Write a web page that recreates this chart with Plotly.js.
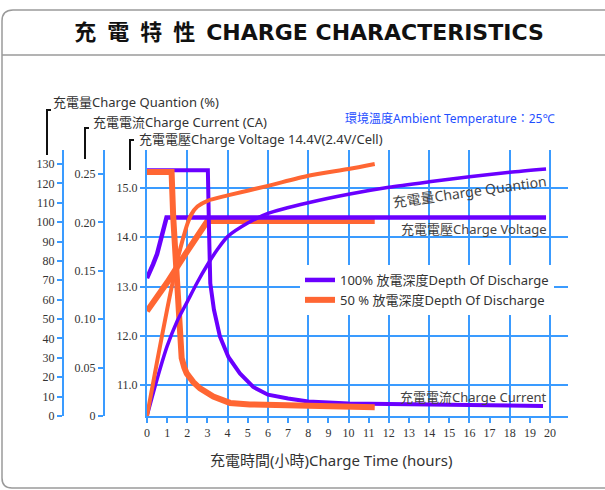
<!DOCTYPE html>
<html>
<head>
<meta charset="utf-8">
<script src="https://cdn.plot.ly/plotly-3.0.1.min.js"></script>
<style>
  html, body { margin: 0; padding: 0; background: #ffffff; }
  #chart { width: 605px; height: 490px; }
</style>
</head>
<body>
<div id="chart"></div>
<script>
// ---------- data ----------
// 100% depth of discharge
const purpleQtyHours = [0, 0.5, 1, 1.5, 2, 2.5, 3, 3.5, 4, 5, 6, 8, 10, 12, 14, 16, 18, 19.8];
const purpleQty      = [0, 19, 36, 49, 59, 69, 78, 86, 92.5, 99.5, 104.5, 110, 114.4, 118, 120.8, 123.4, 125.7, 127.4];
const purpleVoltHours = [0, 0.15, 0.3, 0.5, 0.65, 0.8, 0.9, 0.97, 19.8];
const purpleVolt      = [13.17, 13.3, 13.45, 13.66, 13.88, 14.1, 14.29, 14.4, 14.4];
const purpleCurHours = [0, 3.02, 3.08, 3.14, 3.32, 3.62, 4.04, 4.61, 5.27, 6, 7, 8, 10, 12, 16, 19.65];
const purpleCur      = [0.254, 0.254, 0.19, 0.137, 0.11, 0.082, 0.061, 0.044, 0.030, 0.022, 0.018, 0.015, 0.013, 0.0125, 0.0115, 0.0103];

// 50% depth of discharge
const orangeQtyHours = [0, 0.5, 1, 1.5, 1.8, 2.0, 2.2, 2.5, 3, 4, 6, 8, 10, 11.3];
const orangeQty      = [0, 28, 55, 80, 92, 99, 104, 108, 111, 113.8, 118.7, 123.9, 127.4, 130];
const orangeVoltHours = [0, 1, 2, 2.5, 2.8, 3.0, 11.3];
const orangeVolt      = [12.5, 13.08, 13.72, 14.05, 14.25, 14.33, 14.33];
const orangeCurHours = [0, 1.22, 1.3, 1.47, 1.64, 1.72, 1.85, 1.97, 2.3, 2.63, 3.29, 4.12, 5.1, 7, 9.5, 11.3];
const orangeCur      = [0.252, 0.252, 0.206, 0.137, 0.082, 0.06, 0.05, 0.044, 0.035, 0.0286, 0.020, 0.0135, 0.012, 0.011, 0.0095, 0.009];

// tick labels
const currentTickVals = [0, 0.05, 0.10, 0.15, 0.20, 0.25];
const currentTickText = ['0', '0.05', '0.10', '0.15', '0.20', '0.25'];
const voltageTickVals = [11, 12, 13, 14, 15];

// names / texts
const seriesNames = ['100% 放電深度Depth Of Discharge', '50 % 放電深度Depth Of Discharge'];

// ---------- layout helpers ----------
const W = 605, H = 490, ML = 20, MR = 37, MT = 150, MB = 74;
const PW = W - ML - MR, PH = H - MT - MB;
const px = x => (x - ML) / PW;
const py = y => (H - MB - y) / PH;

const PURPLE = '#6a00ff';
const ORANGE = '#ff6633';
const BLUE = '#3a9bff';
const SANS = 'Noto Sans, Noto Sans CJK TC, sans-serif';
const SERIF = 'Liberation Serif, DejaVu Serif, serif';

const traces = [
  { x: purpleQtyHours, y: purpleQty, xaxis: 'x', yaxis: 'y3', mode: 'lines',
    line: { color: PURPLE, width: 3.5, shape: 'spline', smoothing: 0.7 }, showlegend: false, hoverinfo: 'skip' },
  { x: orangeQtyHours, y: orangeQty, xaxis: 'x', yaxis: 'y3', mode: 'lines',
    line: { color: ORANGE, width: 4, shape: 'spline', smoothing: 0.7 }, showlegend: false, hoverinfo: 'skip' },
  { x: orangeVoltHours, y: orangeVolt, xaxis: 'x', yaxis: 'y', mode: 'lines',
    line: { color: ORANGE, width: 6 }, showlegend: false, hoverinfo: 'skip' },
  { x: purpleVoltHours, y: purpleVolt, xaxis: 'x', yaxis: 'y', mode: 'lines', name: seriesNames[0],
    line: { color: PURPLE, width: 4.5 }, showlegend: true, hoverinfo: 'skip' },
  { x: purpleCurHours, y: purpleCur, xaxis: 'x', yaxis: 'y2', mode: 'lines',
    line: { color: PURPLE, width: 4 }, showlegend: false, hoverinfo: 'skip' },
  { x: orangeCurHours, y: orangeCur, xaxis: 'x', yaxis: 'y2', mode: 'lines', name: seriesNames[1],
    line: { color: ORANGE, width: 6 }, showlegend: true, hoverinfo: 'skip' },
  // carrier for the 2-hour grid axis
  { x: [0], y: [11], xaxis: 'x2', yaxis: 'y', mode: 'markers', marker: { opacity: 0 },
    showlegend: false, hoverinfo: 'skip' }
];

const framePath =
  `M ${px(610)} ${py(10)} L ${px(13)} ${py(10)} Q ${px(2)} ${py(10)} ${px(2)} ${py(21)} ` +
  `L ${px(2)} ${py(478)} Q ${px(2)} ${py(488)} ${px(12)} ${py(488)} L ${px(610)} ${py(488)}`;

function bracket(x, yTop, yBot) {
  return { type: 'path', xref: 'paper', yref: 'paper',
    path: `M ${px(x + 4)} ${py(yTop)} L ${px(x)} ${py(yTop)} L ${px(x)} ${py(yBot)}`,
    line: { color: '#111111', width: 2 } };
}

const axisCommon = {
  showline: true, linecolor: BLUE, linewidth: 2, ticks: 'outside', ticklen: 5,
  tickcolor: BLUE, tickwidth: 2, zeroline: false, fixedrange: true,
  tickfont: { family: SERIF, size: 12, color: '#333333' }
};

const layout = {
  width: W, height: H,
  margin: { l: ML, r: MR, t: MT, b: MB, pad: 0 },
  paper_bgcolor: '#ffffff', plot_bgcolor: '#ffffff',
  showlegend: true,
  title: {
    text: '<span style="font-size:22px">充\u2002電\u2002特\u2002性</span>\u2002CHARGE CHARACTERISTICS',
    font: { family: 'DejaVu Sans, Noto Sans CJK TC, sans-serif', size: 22, color: '#111111', weight: 'bold' },
    x: 309 / W, xanchor: 'center', xref: 'container',
    y: 1 - 32 / H, yanchor: 'middle', yref: 'container'
  },
  xaxis: Object.assign({}, axisCommon, {
    domain: [px(147), 1], range: [0, 20.89], tick0: 0, dtick: 1,
    showgrid: false, anchor: 'y'
  }),
  xaxis2: {
    overlaying: 'x', anchor: 'y', range: [0, 20.89], tick0: 0, dtick: 2,
    showgrid: true, gridcolor: BLUE, gridwidth: 2, showticklabels: false,
    ticks: '', showline: false, zeroline: false, fixedrange: true
  },
  yaxis: Object.assign({}, axisCommon, {
    domain: [0, 1], range: [10.3706, 15.7716], tickvals: voltageTickVals, tickformat: '.1f',
    showgrid: true, gridcolor: BLUE, gridwidth: 2, anchor: 'x', side: 'left'
  }),
  yaxis2: Object.assign({}, axisCommon, {
    overlaying: 'y', anchor: 'free', position: px(104), side: 'left',
    range: [0, 0.2748], tickvals: currentTickVals, ticktext: currentTickText, showgrid: false
  }),
  yaxis3: Object.assign({}, axisCommon, {
    overlaying: 'y', anchor: 'free', position: px(63), side: 'left',
    range: [0, 137.2], tick0: 0, dtick: 10, showgrid: false
  }),
  legend: {
    x: px(300), y: py(265), xanchor: 'left', yanchor: 'top',
    bgcolor: '#ffffff', borderwidth: 0,
    font: { family: SANS, size: 13, color: '#333333' },
    tracegroupgap: 0, itemwidth: 30
  },
  shapes: [
    { type: 'path', xref: 'paper', yref: 'paper', path: framePath,
      line: { color: '#9a9a9a', width: 1.5 } },
    { type: 'line', xref: 'paper', yref: 'paper', x0: px(2), x1: px(610), y0: py(55), y1: py(55),
      line: { color: '#9a9a9a', width: 1.5 } },
    bracket(47, 110, 155),
    bracket(85, 128, 159),
    bracket(130, 140, 170)
  ],
  annotations: [
    { text: '充電量Charge Quantion (%)', x: px(51), y: py(102), xanchor: 'left', yanchor: 'middle' },
    { text: '充電電流Charge Current (CA)', x: px(91), y: py(122), xanchor: 'left', yanchor: 'middle' },
    { text: '充電電壓Charge Voltage 14.4V(2.4V/Cell)', x: px(137), y: py(139), xanchor: 'left', yanchor: 'middle' },
    { text: '環境溫度Ambient Temperature：25℃', x: px(449), y: py(118), xanchor: 'center', yanchor: 'middle',
      font: { family: SANS, size: 12, color: '#1f4fff' } },
    { text: '充電量Charge Quantion', x: px(469), y: py(191), xanchor: 'center', yanchor: 'middle',
      textangle: -8, font: { family: SANS, size: 14, color: '#444444' } },
    { text: '充電電壓Charge Voltage', x: px(474), y: py(229), xanchor: 'center', yanchor: 'middle',
      font: { family: SANS, size: 13, color: '#444444' } },
    { text: '充電電流Charge Current', x: px(473), y: py(397), xanchor: 'center', yanchor: 'middle',
      font: { family: SANS, size: 13, color: '#444444' } },
    { text: '充電時間(小時)Charge Time (hours)', x: px(331), y: py(460), xanchor: 'center', yanchor: 'middle',
      font: { family: SANS, size: 15, color: '#333333' } }
  ].map(a => Object.assign({ xref: 'paper', yref: 'paper', showarrow: false,
    font: { family: SANS, size: 13, color: '#333333' } }, a))
};

Plotly.newPlot('chart', traces, layout, { displayModeBar: false, staticPlot: true });
</script>
</body>
</html>
